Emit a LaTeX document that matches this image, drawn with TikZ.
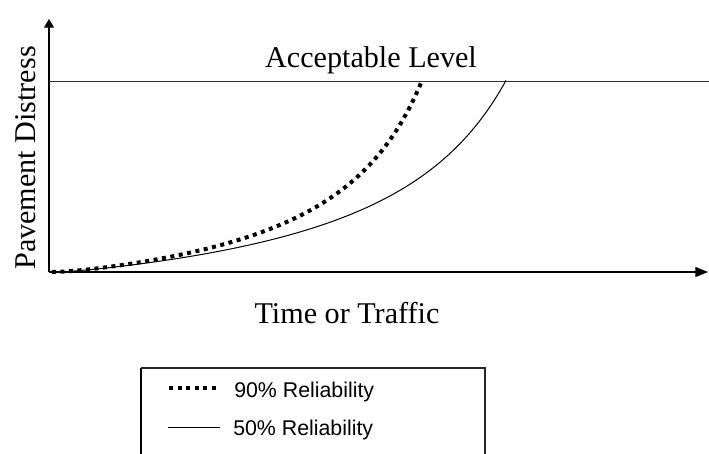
\documentclass[tikz,border=0pt]{standalone}
\usepackage{fontspec}
\setmainfont{Liberation Serif}
\setsansfont{Liberation Sans}
\usetikzlibrary{arrows.meta}
\tikzset{
  xaxis/.style={line width=0.8pt, -{Triangle[length=9.5pt,width=7.5pt]}},
  yaxis/.style={line width=0.8pt, -{Triangle[length=6.5pt,width=7.5pt]}},
  lvl/.style={line width=0.75pt, black!80},
  curvesolid/.style={line width=0.75pt},
  curvedot/.style={line width=3pt, dash pattern=on 3pt off 3.4pt},
  bigtxt/.style={font=\fontsize{22.6}{26}\selectfont, inner sep=0pt},
  legtxt/.style={font=\sffamily\fontsize{16}{19}\selectfont, inner sep=0pt, anchor=base west},
  legbox/.style={line width=0.8pt},
  legboxthick/.style={line width=1.5pt, black!85},
}
\begin{document}
\begin{tikzpicture}[x=0.75pt,y=-0.75pt]
\useasboundingbox (0,0) rectangle (709,453);
\clip (0,0) rectangle (709,453);
% axes
\coordinate (O) at (49,272);
\coordinate (ytip) at (49,19);
\coordinate (xtip) at (708,272);
\draw[yaxis] (O) -- (ytip);
\draw[xaxis] (O) -- (xtip);
% acceptable level
\coordinate (L1) at (49,81);
\coordinate (L2) at (709,81);
\draw[lvl] (L1) -- (L2);
\node[bigtxt, anchor=base] (acc) at (371,67) {Acceptable Level};
\node[bigtxt, anchor=base] (xlab) at (347,323) {Time or Traffic};
\node[bigtxt, anchor=base, rotate=90] (ylab) at (35,158) {Pavement Distress};
% curves
\draw[curvesolid] plot[domain=0:454, samples=150] ({52+\x}, {272 - 62.4*(\x/(592.7-\x))*(\x/(\x+30))});
\draw[curvedot] plot[domain=0:369, samples=150] ({52+\x}, {272 - 57*(\x/(471.9-\x))*(\x/(\x+30))});
% legend
\coordinate (b1) at (141,470);
\coordinate (b2) at (141,368);
\coordinate (b3) at (485,368);
\coordinate (b4) at (485,470);
\draw[legbox] (b1) -- (b2);
\draw[legboxthick] (b2) -- (b3) -- (b4);
\coordinate (d1) at (169,388);
\coordinate (d2) at (220,388);
\draw[curvedot] (d1) -- (d2);
\coordinate (s1) at (168,427);
\coordinate (s2) at (220,427);
\draw[curvesolid] (s1) -- (s2);
\node[legtxt] (leg90) at (234,397) {90\% Reliability};
\node[legtxt] (leg50) at (233,435) {50\% Reliability};
\end{tikzpicture}
\end{document}
